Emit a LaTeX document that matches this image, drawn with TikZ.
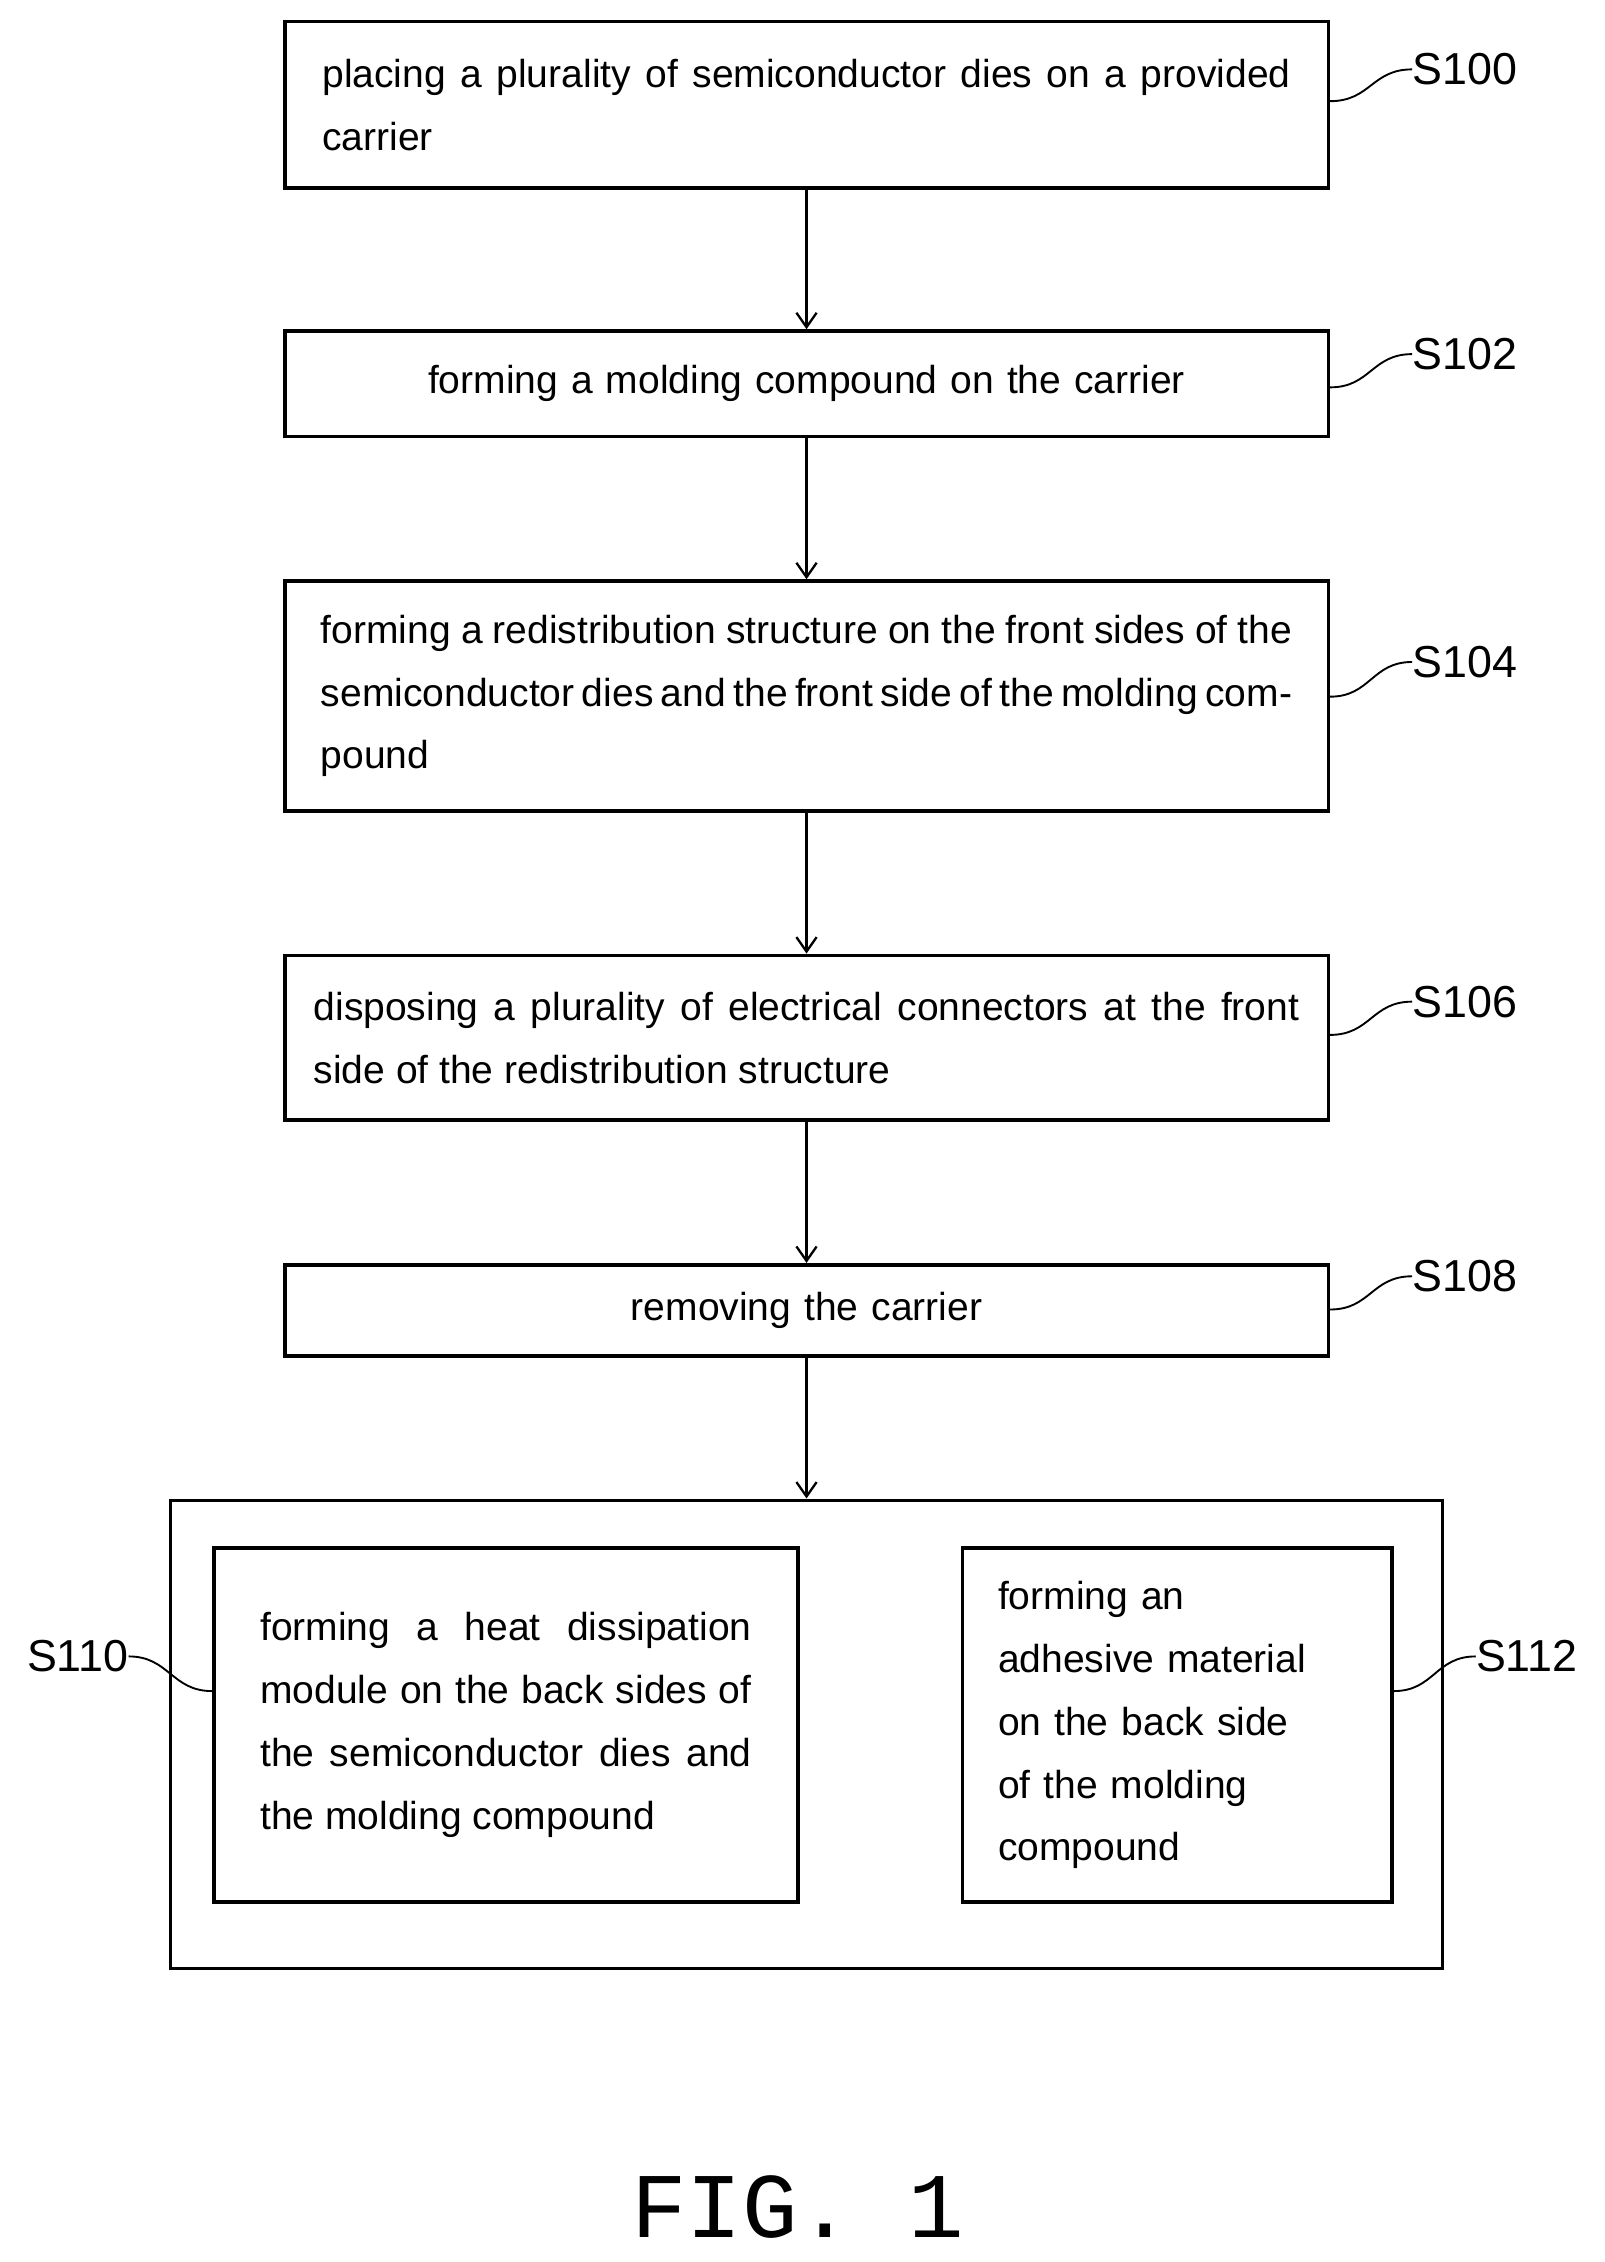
\documentclass[tikz,border=0pt]{standalone}
\usepackage{fontspec}
\usetikzlibrary{arrows.meta}
\setmainfont{Liberation Sans}
\newfontfamily\monofig{Liberation Mono}
\begin{document}
\begin{tikzpicture}[x=1pt,y=-1pt,
 box/.style={draw,line width=2.5pt,inner sep=0pt,font=\fontsize{27}{43.5}\selectfont},
 lab/.style={font=\fontsize{31}{36}\selectfont,inner sep=0pt},
 arr/.style={line width=1.6pt,-{Straight Barb[length=10pt,width=14pt]}},
 cn/.style={line width=1.3pt}]
\useasboundingbox (0,0) rectangle (1110,1565);
\node[box,minimum width=722pt,minimum height=115pt,text width=670pt,align=justify] (a) at (558,72.5) {placing a plurality of semiconductor dies on a provided carrier};
\node[box,minimum width=722pt,minimum height=73pt,text width=680pt,align=center] (b) at (558,265.5) {forming a molding compound on the carrier};
\node[box,minimum width=722pt,minimum height=159pt,text width=672pt,align=justify] (c) at (558,481.5) {forming a redistribution structure on the front sides of the semiconductor dies and the front side of the molding compound};
\node[box,minimum width=722pt,minimum height=114pt,text width=682pt,align=justify] (d) at (558,718) {disposing a plurality of electrical connectors at the front side of the redistribution structure};
\node[box,minimum width=722pt,minimum height=63pt,text width=680pt,align=center] (e) at (558,906.5) {removing the carrier};
\node[box,minimum width=880pt,minimum height=324pt] (f) at (558,1200) {};
\node[box,minimum width=404pt,minimum height=245pt,text width=340pt,align=justify] (g) at (350,1193.5) {forming a heat dissipation module on the back sides of the semiconductor dies and the molding compound};
\node[box,minimum width=297pt,minimum height=245pt,text width=248pt,align=left] (h) at (814.5,1193.5) {forming an\\ adhesive material\\ on the back side\\ of the molding\\ compound};
\foreach \p/\q in {a/b,b/c,c/d,d/e,e/f} \draw[arr] (\p) -- (\q);
\node[lab,anchor=west] (la) at (977,48) {S100};
\node[lab,anchor=west] (lb) at (977,245) {S102};
\node[lab,anchor=west] (lc) at (977,458) {S104};
\node[lab,anchor=west] (ld) at (977,693) {S106};
\node[lab,anchor=west] (le) at (977,883) {S108};
\node[lab,anchor=east] (lg) at (89,1146) {S110};
\node[lab,anchor=west] (lh) at (1021,1146) {S112};
\foreach \n/\l/\y in {a/la/70,b/lb/268,c/lc/482,d/ld/716,e/le/906}
 \draw[cn] (\n.east|-0,\y) .. controls +(28,0) and +(-28,0) .. (\l.west);
\draw[cn] (g.west|-0,1170) .. controls +(-28,0) and +(28,0) .. (lg.east);
\draw[cn] (h.east|-0,1170) .. controls +(28,0) and +(-28,0) .. (lh.west);
\node[font=\monofig\fontsize{64}{70}\selectfont,inner sep=0pt] (fig) at (552,1527) {FIG. 1};
\end{tikzpicture}
\end{document}
